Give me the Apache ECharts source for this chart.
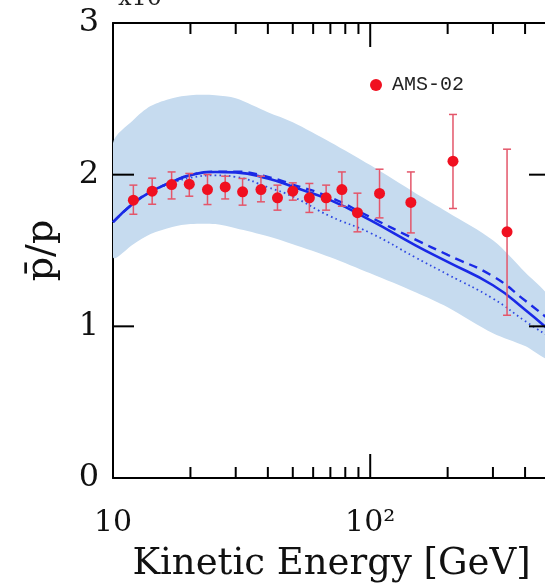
<!DOCTYPE html>
<html>
<head>
<meta charset="utf-8">
<script src="https://cdn.jsdelivr.net/npm/echarts@6/dist/echarts.min.js"></script>
<style>
  html, body { margin: 0; padding: 0; background: #fff; }
  #chart { width: 545px; height: 584px; }
</style>
</head>
<body>
<div id="chart"></div>
<script>
// AMS-02 antiproton-to-proton ratio (in units of 1e-4)
const amsEnergy = [12.0, 14.2, 16.9, 19.8, 23.3, 27.3, 31.9, 37.6, 43.6, 50.0, 58.0, 67.4, 77.6, 89.2, 108.7, 143.9, 209.8, 340.4];
const amsRatio  = [1.832, 1.891, 1.935, 1.937, 1.902, 1.919, 1.887, 1.902, 1.847, 1.891, 1.847, 1.847, 1.902, 1.749, 1.876, 1.817, 2.089, 1.623];
const amsLow    = [1.739, 1.805, 1.840, 1.858, 1.803, 1.840, 1.799, 1.821, 1.766, 1.832, 1.751, 1.766, 1.792, 1.623, 1.715, 1.616, 1.777, 1.073];
const amsHigh   = [1.931, 1.977, 2.018, 2.008, 2.001, 1.990, 1.975, 1.990, 1.931, 1.946, 1.942, 1.931, 2.018, 1.878, 2.036, 2.018, 2.397, 2.168];

// Model predictions on a common energy grid
const modelEnergy = [10, 12, 14, 17, 20, 25, 30, 40, 50, 70, 100, 150, 200, 300, 400, 500];
const modelSolid  = [1.687, 1.811, 1.887, 1.953, 1.997, 2.018, 2.015, 1.975, 1.920, 1.832, 1.700, 1.534, 1.425, 1.271, 1.110, 0.970];
const modelDashed = [1.687, 1.811, 1.887, 1.953, 1.997, 2.020, 2.020, 1.985, 1.935, 1.850, 1.720, 1.572, 1.471, 1.330, 1.170, 1.040];
const modelDotted = [1.687, 1.810, 1.885, 1.945, 1.980, 1.995, 1.985, 1.917, 1.855, 1.725, 1.616, 1.454, 1.342, 1.183, 1.035, 0.928];
const bandUpper   = [2.208, 2.360, 2.452, 2.504, 2.524, 2.524, 2.504, 2.412, 2.346, 2.214, 2.063, 1.878, 1.753, 1.568, 1.357, 1.172];
const bandLower   = [1.456, 1.542, 1.608, 1.655, 1.674, 1.674, 1.647, 1.594, 1.542, 1.456, 1.350, 1.225, 1.126, 0.954, 0.870, 0.790];

// Axis ticks and labels
const xMajorTicks = [10, 100];
const xMinorTicks = [20, 30, 40, 50, 60, 70, 80, 90, 200, 300, 400];
const xTickLabels = ['10', '10\u00b2'];
const yTicks = [0, 1, 2, 3];

const X_MIN = 10, X_MAX = 500, Y_MIN = 0, Y_MAX = 3;
const SERIF = '"DejaVu Serif", "Liberation Serif", serif';
const pairs = (xs, ys) => xs.map((x, i) => [x, ys[i]]);
const tickStyle = () => ({ stroke: '#000', lineWidth: 2 });

function xAxis(position, withLabels) {
  return {
    type: 'log', logBase: 10, min: X_MIN, max: X_MAX, position,
    axisLine: { show: true, onZero: false, lineStyle: { color: '#000', width: 2 } },
    axisTick: { show: false },
    axisLabel: withLabels ? {
      show: true, margin: 30, customValues: xMajorTicks,
      fontFamily: SERIF, fontSize: 30, color: '#111',
      formatter: v => xTickLabels[xMajorTicks.findIndex(t => Math.abs(t - v) < 1e-6)] || ''
    } : { show: false },
    splitLine: { show: false },
    name: withLabels ? 'Kinetic Energy [GeV]' : '',
    nameLocation: 'middle', nameGap: 68,
    nameTextStyle: { fontFamily: SERIF, fontSize: 37, color: '#111' }
  };
}

function yAxis(position, withLabels) {
  return {
    type: 'value', min: Y_MIN, max: Y_MAX, interval: 1, position,
    axisLine: { show: true, onZero: false, lineStyle: { color: '#000', width: 2 } },
    axisTick: { show: false },
    axisLabel: withLabels ? { show: true, margin: 14, fontFamily: SERIF, fontSize: 32, color: '#111' }
                          : { show: false },
    splitLine: { show: false },
    name: withLabels ? 'p\u0304/p' : '',
    nameLocation: 'middle', nameRotate: 90, nameGap: 52,
    nameTextStyle: { fontFamily: SERIF, fontSize: 38, color: '#111' }
  };
}

// inward frame ticks on the bottom and top edges (own layer, above the plot)
function xTickSeries(name, values, len) {
  return {
    type: 'custom', name, zlevel: 1, z: 10, silent: true, clip: false,
    data: values.map(v => [v, Y_MIN]),
    encode: { x: 0, y: 1 },
    renderItem: (params, api) => {
      const b = api.coord([api.value(0), Y_MIN]);
      const t = api.coord([api.value(0), Y_MAX]);
      return {
        type: 'group',
        children: [
          { type: 'line', shape: { x1: b[0], y1: b[1], x2: b[0], y2: b[1] - len }, style: tickStyle() },
          { type: 'line', shape: { x1: t[0], y1: t[1], x2: t[0], y2: t[1] + len }, style: tickStyle() }
        ]
      };
    }
  };
}

const chart = echarts.init(document.getElementById('chart'), null, { renderer: 'canvas' });

chart.setOption({
  animation: false,
  grid: { left: 113, top: 23, right: -5, bottom: 106, outerBoundsMode: 'none' },
  xAxis: [xAxis('bottom', true), xAxis('top', false)],
  yAxis: [yAxis('left', true), yAxis('right', false)],
  legend: {
    data: ['AMS-02'], left: 365, top: 70,
    icon: 'circle', itemWidth: 12, itemHeight: 12,
    textStyle: { fontFamily: '"Liberation Mono", "DejaVu Sans Mono", monospace', fontSize: 20, color: '#222', padding: [0, 0, 0, 5] }
  },
  graphic: [{
    type: 'text', left: 118, top: -13,
    style: { text: 'x10\u207b\u2074', font: '24px "DejaVu Serif", serif', fill: '#222' }
  }],
  series: [
    { // uncertainty band between the lower and upper model edges
      type: 'custom', name: 'band', z: 1, silent: true, clip: true,
      data: modelEnergy.map((e, i) => [e, bandLower[i], bandUpper[i]]),
      encode: { x: 0, y: [1, 2] },
      renderItem: (params, api) => {
        if (params.dataIndex !== 0) return null;
        const upper = modelEnergy.map((e, i) => api.coord([e, bandUpper[i]]));
        const lower = modelEnergy.map((e, i) => api.coord([e, bandLower[i]])).reverse();
        return {
          type: 'polygon',
          shape: { points: upper.concat(lower), smooth: 0.3 },
          style: { fill: '#c6dbef', stroke: null }
        };
      }
    },
    {
      type: 'line', name: 'dotted', data: pairs(modelEnergy, modelDotted),
      smooth: true, showSymbol: false, z: 2,
      lineStyle: { color: '#2f48e2', width: 1.8, type: [1.6, 3.2] }
    },
    {
      type: 'line', name: 'dashed', data: pairs(modelEnergy, modelDashed),
      smooth: true, showSymbol: false, z: 2,
      lineStyle: { color: '#1a2ae6', width: 2.4, type: [9, 6] }
    },
    {
      type: 'line', name: 'solid', data: pairs(modelEnergy, modelSolid),
      smooth: true, showSymbol: false, z: 2,
      lineStyle: { color: '#1a2ae6', width: 2.6 }
    },
    {
      type: 'custom', name: 'AMS-02 errors', z: 3,
      data: amsEnergy.map((e, i) => [e, amsLow[i], amsHigh[i]]),
      encode: { x: 0, y: [1, 2] },
      renderItem: (params, api) => {
        const lo = api.coord([api.value(0), api.value(1)]);
        const hi = api.coord([api.value(0), api.value(2)]);
        const w = 4;
        const st = () => ({ stroke: '#e4566a', lineWidth: 1.5 });
        return {
          type: 'group',
          children: [
            { type: 'line', shape: { x1: lo[0], y1: lo[1], x2: hi[0], y2: hi[1] }, style: st() },
            { type: 'line', shape: { x1: lo[0] - w, y1: lo[1], x2: lo[0] + w, y2: lo[1] }, style: st() },
            { type: 'line', shape: { x1: hi[0] - w, y1: hi[1], x2: hi[0] + w, y2: hi[1] }, style: st() }
          ]
        };
      }
    },
    {
      type: 'scatter', name: 'AMS-02', data: pairs(amsEnergy, amsRatio),
      symbol: 'circle', symbolSize: 11, z: 4,
      itemStyle: { color: '#f01020', opacity: 1 }
    },
    xTickSeries('major x ticks', xMajorTicks, 24),
    xTickSeries('minor x ticks', xMinorTicks, 11),
    { // inward frame ticks on the left and right edges
      type: 'custom', name: 'y ticks', zlevel: 1, z: 10, silent: true, clip: false,
      data: yTicks.map(v => [X_MIN, v]),
      encode: { x: 0, y: 1 },
      renderItem: (params, api) => {
        const l = api.coord([X_MIN, api.value(1)]);
        const r = api.coord([X_MAX, api.value(1)]);
        return {
          type: 'group',
          children: [
            { type: 'line', shape: { x1: l[0], y1: l[1], x2: l[0] + 21, y2: l[1] }, style: tickStyle() },
            { type: 'line', shape: { x1: r[0], y1: r[1], x2: r[0] - 21, y2: r[1] }, style: tickStyle() }
          ]
        };
      }
    }
  ]
});
</script>
</body>
</html>
